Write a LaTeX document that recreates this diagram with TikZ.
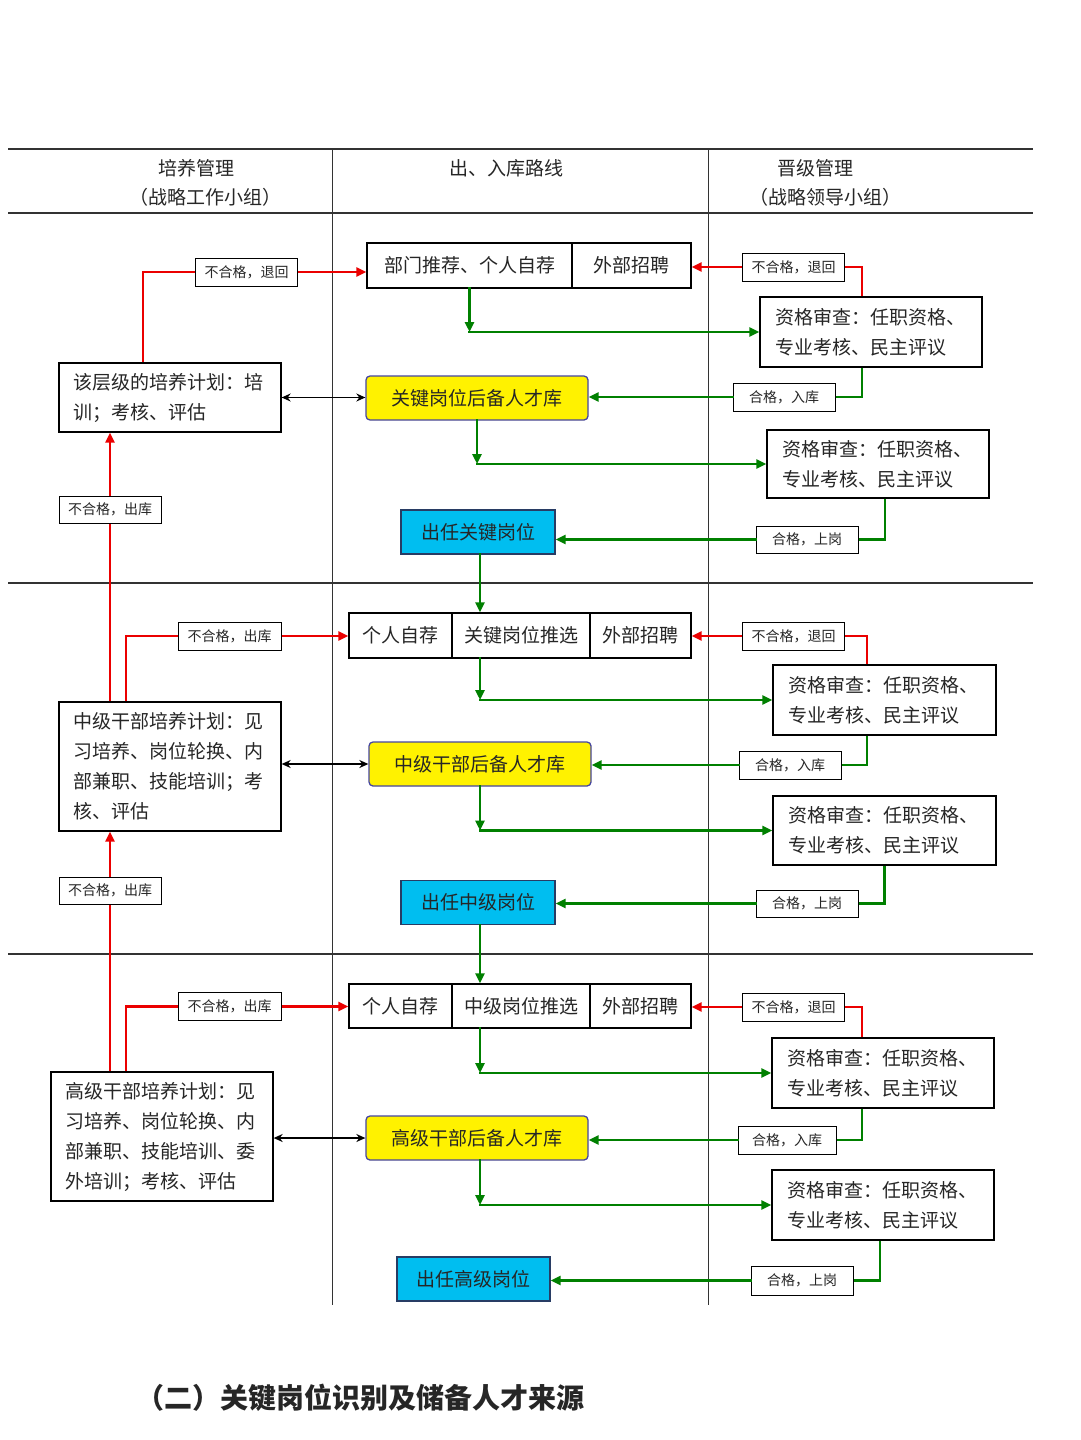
\documentclass[tikz,border=0pt]{standalone}
\usepackage{fontspec}
\setmainfont{Noto Sans CJK SC}
\usepackage{tikz}
\usetikzlibrary{arrows.meta}

\definecolor{poolblue}{RGB}{70,70,160}
\definecolor{postcyan}{RGB}{0,190,240}
\definecolor{postblue}{RGB}{40,60,100}
\definecolor{flowgreen}{RGB}{0,128,0}
\definecolor{flowred}{RGB}{235,0,0}

\begin{document}
\begin{tikzpicture}[x=1pt,y=-1pt,line join=miter,
    every node/.style={inner sep=0pt,text=black!85},
    base font/.style={font=\fontsize{19}{30}\selectfont},
    main node/.style={draw,line width=1.3pt,base font,minimum height=45pt},
    plan node/.style={main node,align=left,text width=194pt,minimum width=222pt},
    check node/.style={main node,align=left,text width=192pt,minimum width=222pt,minimum height=70pt},
    label node/.style={draw,line width=1pt,fill=white,font=\fontsize{14}{16}\selectfont,minimum width=102pt,minimum height=28pt},
    pool node/.style={main node,draw=poolblue,fill=yellow,rounded corners=4pt,minimum width=222pt,minimum height=44pt},
    post node/.style={main node,draw=postblue,fill=postcyan,minimum width=154pt,minimum height=44pt},
    lane rule/.style={draw=black!80,line width=1.3pt},
    lane edge/.style={draw=black!80,line width=0.8pt},
    red line/.style={draw=flowred,line width=2.6pt},
    red arrow/.style={red line,-{Triangle[length=10pt,width=9pt]}},
    green line/.style={draw=flowgreen,line width=2.6pt},
    green arrow/.style={green line,line cap=rect,-{Triangle[length=10pt,width=9pt]}},
    both arrow/.style={draw=black,line width=1.3pt,{Stealth[length=9pt,width=8pt]}-{Stealth[length=9pt,width=8pt]}}]

    \path[fill=white] (0,0) rectangle (1080,1440);

    \draw[lane rule] (8,149) -- (1033,149);
    \draw[lane rule] (8,213) -- (1033,213);
    \draw[lane rule] (8,583) -- (1033,583);
    \draw[lane rule] (8,954) -- (1033,954);
    \draw[lane edge] (332,149) -- (332,1305);
    \draw[lane edge] (708,149) -- (708,1305);

    \node[base font] (h1) at (196,168) {培养管理};
    \node[base font] (h1s) at (205,197) {（战略工作小组）};
    \node[base font] (h2) at (506,168) {出、入库路线};
    \node[base font] (h3) at (815,168) {晋级管理};
    \node[base font] (h3s) at (825,197) {（战略领导小组）};

    \node[main node,minimum width=205pt] (rec1) at (469.5,265.5) {部门推荐、个人自荐};
    \node[main node,minimum width=119pt] (ext1) at (631.5,265.5) {外部招聘};
    \node[label node] (noL1) at (246.5,272) {不合格，退回};
    \node[label node] (noR1) at (793.5,267) {不合格，退回};
    \node[check node] (chk1) at (871,332) {资格审查：任职资格、\\专业考核、民主评议};
    \node[plan node,minimum height=69pt] (plan1) at (170,397.5) {该层级的培养计划：培\\训；考核、评估};
    \node[pool node] (pool1) at (477,398) {关键岗位后备人才库};
    \node[label node] (okin1) at (784,397) {合格，入库};
    \node[check node,minimum height=68pt] (chk2) at (878,464) {资格审查：任职资格、\\专业考核、民主评议};
    \node[label node,minimum height=27pt] (okup1) at (807,539.5) {合格，上岗};
    \node[post node] (post1) at (478,532) {出任关键岗位};
    \node[label node,minimum height=27pt] (noE1) at (110,509.5) {不合格，出库};

    \node[main node,minimum width=103pt] (self2) at (400.5,635.5) {个人自荐};
    \node[main node,minimum width=138pt] (rec2) at (521,635.5) {关键岗位推选};
    \node[main node,minimum width=101pt] (ext2) at (640.5,635.5) {外部招聘};
    \node[label node,minimum width=103pt] (noL2) at (229.5,636) {不合格，出库};
    \node[label node] (noR2) at (793.5,636) {不合格，退回};
    \node[check node,minimum width=223pt] (chk3) at (884.5,700) {资格审查：任职资格、\\专业考核、民主评议};
    \node[plan node,minimum height=129pt] (plan2) at (170,766.5) {中级干部培养计划：见\\习培养、岗位轮换、内\\部兼职、技能培训；考\\核、评估};
    \node[pool node] (pool2) at (480,764) {中级干部后备人才库};
    \node[label node] (okin2) at (790,765) {合格，入库};
    \node[check node,minimum width=223pt,minimum height=69pt] (chk4) at (884.5,830.5) {资格审查：任职资格、\\专业考核、民主评议};
    \node[label node,minimum height=27pt] (okup2) at (807,903.5) {合格，上岗};
    \node[post node] (post2) at (478,902.5) {出任中级岗位};
    \node[label node,minimum height=27pt] (noE2) at (110,890.5) {不合格，出库};

    \node[main node,minimum width=103pt,minimum height=44pt] (self3) at (400.5,1006) {个人自荐};
    \node[main node,minimum width=138pt,minimum height=44pt] (rec3) at (521,1006) {中级岗位推选};
    \node[main node,minimum width=101pt,minimum height=44pt] (ext3) at (640.5,1006) {外部招聘};
    \node[label node,minimum width=103pt] (noL3) at (229.5,1006.5) {不合格，出库};
    \node[label node] (noR3) at (793.5,1007) {不合格，退回};
    \node[check node] (chk5) at (883,1073) {资格审查：任职资格、\\专业考核、民主评议};
    \node[plan node,minimum height=129pt] (plan3) at (162,1136.5) {高级干部培养计划：见\\习培养、岗位轮换、内\\部兼职、技能培训、委\\外培训；考核、评估};
    \node[pool node] (pool3) at (477,1138) {高级干部后备人才库};
    \node[label node,minimum width=98pt] (okin3) at (787,1140) {合格，入库};
    \node[check node] (chk6) at (883,1205) {资格审查：任职资格、\\专业考核、民主评议};
    \node[label node,minimum height=29pt] (okup3) at (802,1280.5) {合格，上岗};
    \node[post node,minimum width=153pt] (post3) at (473.5,1279) {出任高级岗位};

    \node[font=\fontsize{28}{32}\selectfont\bfseries] (cap) at (360,1398) {（二）关键岗位识别及储备人才来源};

    \draw[red line] ([xshift=-27]plan1.north) |- (noL1.west);
    \draw[red arrow] (noL1.east) -- (noL1.east -| rec1.west);
    \draw[red line] ([xshift=-9]chk1.north) |- (noR1.east);
    \draw[red arrow] (noR1.west) -- (noR1.west -| ext1.east);
    \draw[green arrow] (rec1.south) -- (rec1.south |- chk1.west);
    \draw[green arrow] (rec1.south |- chk1.west) -- (chk1.west);
    \draw[both arrow] (plan1.east) -- (plan1.east -| pool1.west);
    \draw[green line] ([xshift=-9]chk1.south) |- (okin1.east);
    \draw[green arrow] (okin1.west) -- (okin1.west -| pool1.east);
    \draw[green arrow] (pool1.south) -- (pool1.south |- chk2.west);
    \draw[green arrow] (pool1.south |- chk2.west) -- (chk2.west);
    \draw[green line] ([xshift=7]chk2.south) |- (okup1.east);
    \draw[green arrow] (okup1.west) -- (okup1.west -| post1.east);
    \draw[green arrow] ([xshift=2]post1.south) -- ([xshift=2]post1.south |- rec2.north);
    \draw[red line] (noE1.south |- plan2.north) -- (noE1.south);
    \draw[red arrow] (noE1.north) -- (noE1.north |- plan1.south);

    \draw[red line] ([xshift=-44]plan2.north) |- (noL2.west);
    \draw[red arrow] (noL2.east) -- (noL2.east -| self2.west);
    \draw[red line] ([xshift=-17.5]chk3.north) |- (noR2.east);
    \draw[red arrow] (noR2.west) -- (noR2.west -| ext2.east);
    \draw[green arrow] (rec2.south -| pool2.north) -- (pool2.north |- chk3.west);
    \draw[green arrow] (pool2.north |- chk3.west) -- (chk3.west);
    \draw[both arrow] (plan2.east |- pool2.west) -- (pool2.west);
    \draw[green line] ([xshift=-17.5]chk3.south) |- (okin2.east);
    \draw[green arrow] (okin2.west) -- (okin2.west -| pool2.east);
    \draw[green arrow] (pool2.south) -- (pool2.south |- chk4.west);
    \draw[green arrow] (pool2.south |- chk4.west) -- (chk4.west);
    \draw[green line] (chk4.south) |- (okup2.east);
    \draw[green arrow] (okup2.west) -- (okup2.west -| post2.east);
    \draw[green arrow] ([xshift=2]post2.south) -- ([xshift=2]post2.south |- rec3.north);
    \draw[red line] (noE2.south |- plan3.north) -- (noE2.south);
    \draw[red arrow] (noE2.north) -- (noE2.north |- plan2.south);

    \draw[red line] ([xshift=-36]plan3.north) |- (noL3.west);
    \draw[red arrow] (noL3.east) -- (noL3.east -| self3.west);
    \draw[red line] ([xshift=-21]chk5.north) |- (noR3.east);
    \draw[red arrow] (noR3.west) -- (noR3.west -| ext3.east);
    \draw[green arrow] (rec3.south -| pool2.north) -- (pool2.north |- chk5.west);
    \draw[green arrow] (pool2.north |- chk5.west) -- (chk5.west);
    \draw[both arrow] (plan3.east |- pool3.west) -- (pool3.west);
    \draw[green line] ([xshift=-21]chk5.south) |- (okin3.east);
    \draw[green arrow] (okin3.west) -- (okin3.west -| pool3.east);
    \draw[green arrow] ([xshift=3]pool3.south) -- ([xshift=3]pool3.south |- chk6.west);
    \draw[green arrow] ([xshift=3]pool3.south |- chk6.west) -- (chk6.west);
    \draw[green line] ([xshift=-3]chk6.south) |- (okup3.east);
    \draw[green arrow] (okup3.west) -- (okup3.west -| post3.east);
\end{tikzpicture}
\end{document}
